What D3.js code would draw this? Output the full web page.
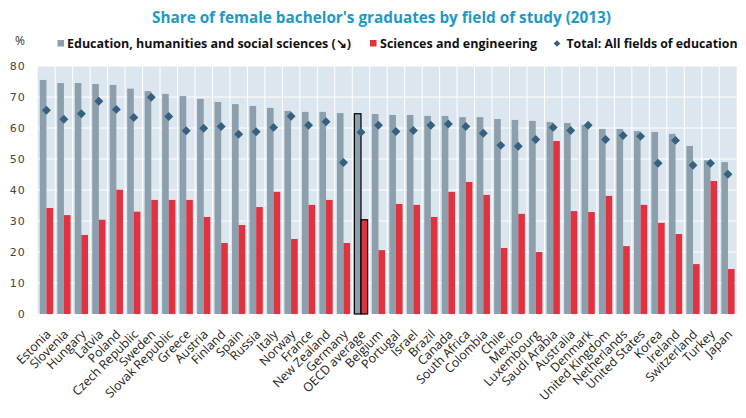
<!DOCTYPE html>
<html><head><meta charset="utf-8">
<script src="https://cdn.jsdelivr.net/npm/d3@7"></script>
<style>body{margin:0;background:#fff}svg{display:block}</style>
</head><body>
<svg id="c" width="746" height="418"></svg>
<script>
const countries = ["Estonia","Slovenia","Hungary","Latvia","Poland","Czech Republic","Sweden","Slovak Republic","Greece","Austria","Finland","Spain","Russia","Italy","Norway","France","New Zealand","Germany","OECD average","Belgium","Portugal","Israel","Brazil","Canada","South Africa","Colombia","Chile","Mexico","Luxembourg","Saudi Arabia","Australia","Denmark","United Kingdom","Netherlands","United States","Korea","Ireland","Switzerland","Turkey","Japan"];
const education = [75.5,74.5,74.5,74.2,73.9,72.7,71.9,71.0,70.3,69.4,68.4,67.7,67.1,66.5,65.5,65.2,65.2,64.8,64.6,64.5,64.2,64.2,63.9,63.9,63.5,63.5,62.9,62.6,62.3,61.9,61.6,61.0,59.7,59.7,59.0,58.7,58.1,54.2,49.6,49.0];
const sciences = [34.2,31.9,25.5,30.4,40.1,33.0,36.8,36.8,36.8,31.3,22.9,28.7,34.5,39.4,24.2,35.2,36.8,22.9,30.4,20.6,35.5,35.2,31.3,39.4,42.6,38.4,21.3,32.3,20.0,55.8,33.2,32.9,38.1,21.9,35.2,29.4,25.8,16.1,42.9,14.5];
const total = [65.7,62.8,64.6,68.6,66.0,63.4,69.9,63.7,59.1,59.9,60.5,58.0,58.8,60.2,63.8,60.9,62.0,48.9,58.6,60.9,58.9,59.2,60.9,61.3,60.5,58.3,54.4,54.1,56.3,60.2,59.2,60.9,56.3,57.6,57.3,48.6,56.0,48.0,48.6,45.1];
const yTicks = [0,10,20,30,40,50,60,70,80];
const highlight = "OECD average";

const C = {gray:"#8c9fac", red:"#e1323f", dia:"#35607f", bg:"#dce6ee", title:"#1d9ac4", text:"#333"};
const svg = d3.select("#c");
const L = 37.7, R = 736.7, T = 66, B = 314;

const x = d3.scaleBand().domain(countries).range([L, R]).padding(0);
const sub = d3.scaleBand().domain(["e","s"]).range([0, x.bandwidth()]).paddingInner(0).paddingOuter(0.32);
const y = d3.scaleLinear().domain([0, 80]).range([B, T]);

// background
svg.append("rect").attr("x", L).attr("y", T).attr("width", R - L).attr("height", B - T).attr("fill", C.bg);
// grid
svg.append("g").selectAll("line").data(yTicks).join("line")
  .attr("x1", L).attr("x2", R).attr("y1", d => y(d)).attr("y2", d => y(d))
  .attr("stroke", "#fff").attr("stroke-width", 1);
svg.append("g").selectAll("line").data(countries.slice(1)).join("line")
  .attr("x1", d => x(d)).attr("x2", d => x(d)).attr("y1", T).attr("y2", B)
  .attr("stroke", "#fff").attr("stroke-width", 1);

// y axis
const yAxis = svg.append("g").attr("transform", `translate(${L - 12},0)`)
  .call(d3.axisLeft(y).tickValues(yTicks).tickSize(0).tickPadding(0));
yAxis.select(".domain").remove();
yAxis.selectAll("text").attr("font-family", "DejaVu Sans").attr("font-size", 11).attr("fill", "#444").attr("letter-spacing", 1);

// bars
const bars = svg.append("g");
bars.selectAll("rect.e").data(countries).join("rect").attr("class", "e")
  .attr("x", d => x(d) + sub("e")).attr("width", sub.bandwidth())
  .attr("y", (d, i) => y(education[i])).attr("height", (d, i) => y(0) - y(education[i]))
  .attr("fill", C.gray)
  .attr("stroke", d => d === highlight ? "#000" : "none").attr("stroke-width", 1.2);
bars.selectAll("rect.s").data(countries).join("rect").attr("class", "s")
  .attr("x", d => x(d) + sub("s")).attr("width", sub.bandwidth())
  .attr("y", (d, i) => y(sciences[i])).attr("height", (d, i) => y(0) - y(sciences[i]))
  .attr("fill", C.red)
  .attr("stroke", d => d === highlight ? "#000" : "none").attr("stroke-width", 1.2);

// diamonds
const dia = d3.symbol().type(d3.symbolSquare).size(40);
svg.append("g").selectAll("path").data(countries).join("path")
  .attr("d", dia)
  .attr("transform", (d, i) => `translate(${x(d) + x.bandwidth() / 2},${y(total[i])}) rotate(45)`)
  .attr("fill", C.dia);

// x labels
svg.append("g").selectAll("text").data(countries).join("text")
  .attr("transform", d => `translate(${x(d) + x.bandwidth() / 2 - 1},${B + 15}) rotate(-45)`)
  .attr("text-anchor", "end").attr("dy", "0.7em")
  .attr("font-family", "Open Sans").attr("font-size", 12.4).attr("fill", "#222")
  .text(d => d);

// title
svg.append("text").attr("x", 381.5).attr("y", 23).attr("text-anchor", "middle")
  .attr("font-family", "Open Sans").attr("font-weight", "bold").attr("font-size", 16)
  .attr("fill", C.title).attr("textLength", 459).attr("lengthAdjust", "spacingAndGlyphs")
  .text("Share of female bachelor's graduates by field of study (2013)");

// % label
svg.append("text").attr("x", 15).attr("y", 45).attr("font-family", "Open Sans").attr("font-size", 12).attr("fill", "#333").text("%");

// legend
const legend = [
  {label: "Education, humanities and social sciences (\u2198)", type: "sq", color: C.gray, mx: 57.5, tx: 67, tw: 284},
  {label: "Sciences and engineering", type: "sq", color: C.red, mx: 370, tx: 380, tw: 157},
  {label: "Total: All fields of education", type: "dia", color: C.dia, mx: 557, tx: 566.5, tw: 171}
];
const lg = svg.append("g");
legend.forEach(l => {
  if (l.type === "sq") {
    lg.append("rect").attr("x", l.mx).attr("y", 40).attr("width", 6.5).attr("height", 6.5).attr("fill", l.color);
  } else {
    lg.append("path").attr("d", d3.symbol().type(d3.symbolSquare).size(22)).attr("transform", `translate(${l.mx},43.5) rotate(45)`).attr("fill", l.color);
  }
  lg.append("text").attr("x", l.tx).attr("y", 47.5).attr("font-family", "Open Sans").attr("font-weight", "bold")
    .attr("font-size", 12.5).attr("fill", "#111").attr("textLength", l.tw).attr("lengthAdjust", "spacingAndGlyphs").text(l.label);
});
</script>
</body></html>
